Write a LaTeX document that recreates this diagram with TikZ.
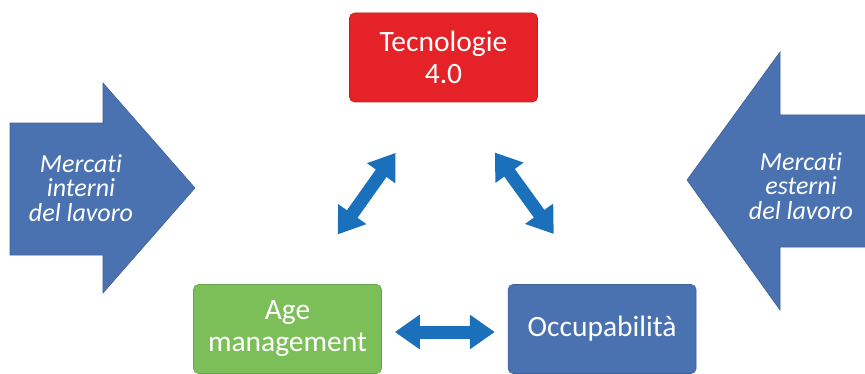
\documentclass[tikz,border=0pt]{standalone}
\usepackage{fontspec}
\setmainfont{Carlito}[RawFeature={-liga;-clig;-dlig}]
\usetikzlibrary{arrows.meta, positioning}

\definecolor{tecred}{RGB}{229,34,39}
\definecolor{agegreen}{RGB}{124,191,89}
\definecolor{occblue}{RGB}{74,114,176}
\definecolor{linkblue}{RGB}{26,112,186}

\begin{document}
\begin{tikzpicture}[x=1pt, y=1pt,
    box/.style={draw=#1!85!black, fill=#1, line width=0.6pt, rounded corners=5pt, text=white, align=center, minimum width=188pt, minimum height=89pt, font=\fontsize{29.5}{32}\selectfont},
    link/.style={linkblue, line width=13pt, {Triangle[length=25pt, width=33pt]}-{Triangle[length=25pt, width=33pt]}},
    market/.style={text=white, align=center, font=\fontsize{26}{24.5}\selectfont\itshape}]

\useasboundingbox (0,0) rectangle (865,373);

% big arrows at the sides

\filldraw[fill=occblue, draw=occblue!85!black, line width=0.6pt]
    (10,250) -- (103,250) -- (103,290) -- (195,185) -- (103,80) -- (103,118) -- (10,118) -- cycle;
\filldraw[fill=occblue, draw=occblue!85!black, line width=0.6pt]
    (866,258) -- (780,258) -- (780,321) -- (687,193) -- (780,63) -- (780,126) -- (866,126) -- cycle;

\node[market] (intmkt) at (81,185) {Mercati\\interni\\del lavoro};
\node[market] (extmkt) at (801,187) {Mercati\\esterni\\del lavoro};

% main boxes

\node[box=tecred] (tecno) at (443.5,315.5) {Tecnologie\\4.0};
\node[box=agegreen] (age) at (287.5,44) {Age\\management};
\node[box=occblue, right=126pt of age] (occ) {Occupabilit\`a};

% arrows

\draw[link, shorten <=62pt, shorten >=61pt] ([xshift=-12pt]tecno.south) -- ([xshift=15pt]age.north);
\draw[link, shorten <=62pt, shorten >=62pt] ([xshift=15pt]tecno.south) -- ([xshift=-12pt]occ.north);
\draw[link, shorten <=13pt, shorten >=13pt] ([yshift=-3pt]age.east) -- ([yshift=-3pt]occ.west);

\end{tikzpicture}
\end{document}
